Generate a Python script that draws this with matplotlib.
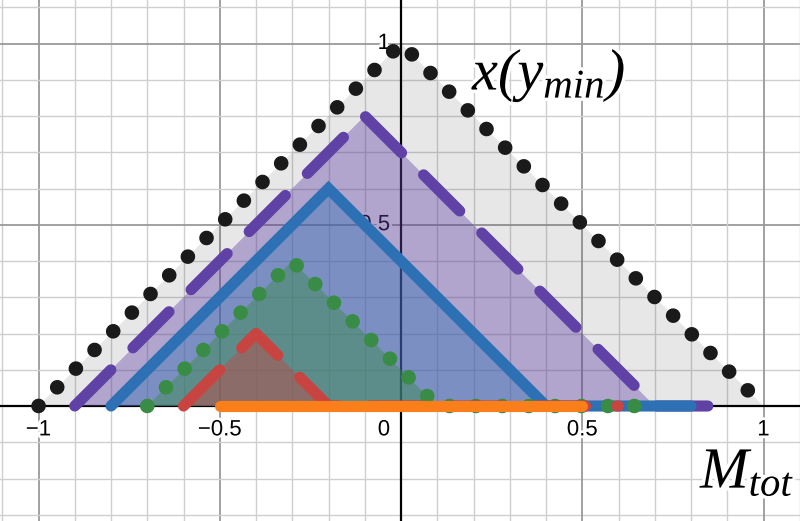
import numpy as np
import matplotlib.pyplot as plt
import matplotlib.patheffects as pe

# fonts
plt.rcParams['font.family'] = ['Liberation Sans', 'DejaVu Sans']
plt.rcParams['mathtext.fontset'] = 'custom'
plt.rcParams['mathtext.it'] = 'Liberation Serif:italic'
plt.rcParams['mathtext.rm'] = 'Liberation Serif:italic'

# triangles: left foot, apex, right foot, end of base line
left_x = [-1.0, -0.9, -0.8, -0.7, -0.6, -0.5]
apex_x = [0.0, -0.1, -0.2, -0.3, -0.4, -0.5]
apex_y = [1.0, 0.8, 0.6, 0.4, 0.2, 0.0]
foot_x = [1.0, 0.7, 0.4, 0.1, -0.2, -0.5]
end_x = [1.0, 0.9, 0.8, 0.7, 0.6, 0.5]

colors = ['#1a1a1a', '#6042a6', '#2d70b3', '#388c46', '#c74440', '#fa7e19']
fill_alpha = [0.1, 0.4, 0.4, 0.45, 0.45, 0.0]
styles = ['dot', 'dash', 'solid', 'dot', 'dash', 'solid']

xticks = [-1, -0.5, 0, 0.5, 1]
xtick_labels = ['\u22121', '\u22120.5', '0', '0.5', '1']
yticks = [0.5, 1]
ytick_labels = ['0.5', '1']

fig = plt.figure(figsize=(8, 5.21), dpi=100)
ax = fig.add_axes([0, 0, 1, 1])
ax.set_xlim(-401 / 362.5, 399 / 362.5)
ax.set_ylim(-115 / 362.5, 406 / 362.5)
ax.set_axis_off()

# grid
for g in np.arange(-1.1, 1.15, 0.1):
    g = round(g, 1)
    major = abs(g * 2 - round(g * 2)) < 1e-6
    c = '#9a9a9a' if major else '#cfcfcf'
    w = 1.3 if major else 1.0
    ax.axvline(g, color=c, lw=w, zorder=0)
    if -0.4 < g < 1.2:
        ax.axhline(g, color=c, lw=w, zorder=0)
ax.axhline(0, color='black', lw=1.6, zorder=0.5)
ax.axvline(0, color='black', lw=1.6, zorder=0.5)

stroke = [pe.withStroke(linewidth=4, foreground='white')]
for x, t in zip(xticks, xtick_labels):
    if x == 0:
        ax.text(-0.03, -0.066, t, ha='right', va='center', fontsize=16,
                zorder=1, path_effects=stroke)
    else:
        ax.text(x, -0.066, t, ha='center', va='center', fontsize=16,
                zorder=1, path_effects=stroke)
for y, t in zip(yticks, ytick_labels):
    ax.text(-0.03, y, t, ha='right', va='center', fontsize=16,
            zorder=1, path_effects=stroke)

for i in range(len(left_x)):
    xs = [left_x[i], apex_x[i], foot_x[i], end_x[i]]
    ys = [0, apex_y[i], 0, 0]
    if fill_alpha[i] > 0:
        ax.fill(xs[:3], ys[:3], color=colors[i], alpha=fill_alpha[i], lw=0, zorder=2 + i)
    if styles[i] == 'dot':
        ls, lw = (0, (0.01, 1.8)), 10.5
    elif styles[i] == 'dash':
        ls, lw = (0, (4.6, 2.8)), 8
    else:
        ls, lw = '-', 8
    ax.plot(xs, ys, color=colors[i], lw=lw, ls=ls, dash_capstyle='round',
            solid_capstyle='round', solid_joinstyle='miter', zorder=2.5 + i)

bigstroke = [pe.withStroke(linewidth=5, foreground='white')]
ax.text(0.196, 0.872, r'$x(y_{min})$', fontsize=42, ha='left', va='baseline',
        zorder=20, path_effects=bigstroke)
ax.text(0.825, -0.226, r'$M_{tot}$', fontsize=42, ha='left', va='baseline',
        zorder=20, path_effects=bigstroke)

fig.savefig('out.png', dpi=100)
